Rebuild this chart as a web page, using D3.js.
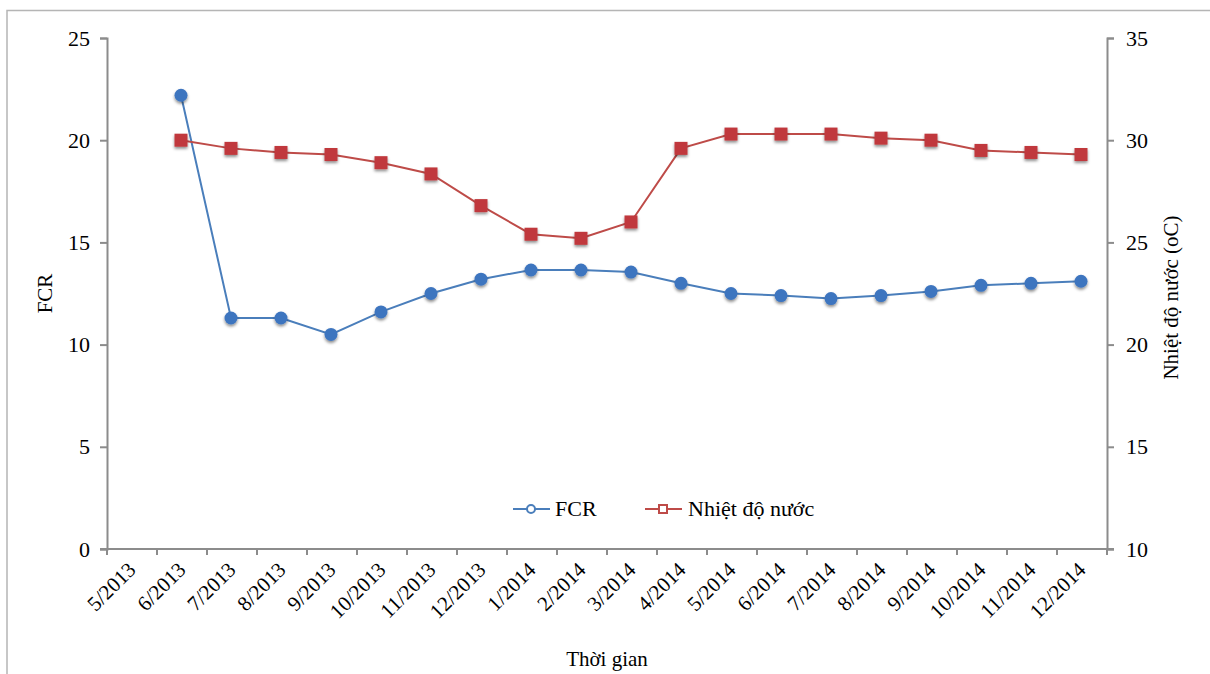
<!DOCTYPE html>
<html>
<head>
<meta charset="utf-8">
<script src="https://cdn.jsdelivr.net/npm/d3@7"></script>
<style>
  body { margin: 0; background: #fff; }
  svg text { font-family: "Times New Roman", "Liberation Serif", Tinos, "DejaVu Serif", serif !important; fill: #000; }
</style>
</head>
<body>
<div id="chart"></div>
<script>
const months= ["5/2013","6/2013","7/2013","8/2013","9/2013","10/2013","11/2013","12/2013",
    "1/2014","2/2014","3/2014","4/2014","5/2014","6/2014","7/2014","8/2014","9/2014",
    "10/2014","11/2014","12/2014"]
// no reading for 5/2013
const fcr= [null, 22.2, 11.3, 11.3, 10.5, 11.6, 12.5, 13.2, 13.65, 13.65, 13.55, 13.0,
    12.5, 12.4, 12.25, 12.4, 12.6, 12.9, 13.0, 13.1]
const temp= [null, 30.0, 29.6, 29.4, 29.3, 28.9, 28.35, 26.8, 25.4, 25.2, 26.0, 29.6,
    30.3, 30.3, 30.3, 30.1, 30.0, 29.5, 29.4, 29.3]
const leftTicks= [0, 5, 10, 15, 20, 25]
const rightTicks= [10, 15, 20, 25, 30, 35]

const W= 1210, H= 674
const m= {left: 107, right: 1107, top: 38, bottom: 549}
const blue= "#3d74bf", blueLine= "#4a7ebb"
const red= "#c0393c", redLine= "#be4b48"
const axisGrey= "#8c8c8c"
const serif= "'Times New Roman', 'Liberation Serif', Tinos, 'DejaVu Serif', serif"

const svg= d3.select("#chart").append("svg")
    .attr("width", W)
    .attr("height", H)
    .attr("font-family", serif)

const defs= svg.append("defs")
const f= defs.append("filter").attr("id", "shadow")
    .attr("x", "-50%").attr("y", "-50%").attr("width", "200%").attr("height", "200%")
f.append("feDropShadow").attr("dx", 0).attr("dy", 2).attr("stdDeviation", 1.6)
    .attr("flood-color", "#000").attr("flood-opacity", 0.45)

// outer frame (only top and left visible)
svg.append("path")
    .attr("d", `M7,${H} L7,10.5 L${W},10.5`)
    .attr("fill", "none")
    .attr("stroke", "#b5b5b5")
    .attr("stroke-width", 1.5)

const x= d3.scaleBand().domain(months).range([m.left, m.right])
const yL= d3.scaleLinear().domain([0, 25]).range([m.bottom, m.top])
const yR= d3.scaleLinear().domain([10, 35]).range([m.bottom, m.top])

// left axis
const gL= svg.append("g").attr("transform", `translate(${m.left},0)`)
    .call(d3.axisLeft(yL).tickValues(leftTicks).tickSize(7).tickPadding(10))
// right axis
const gR= svg.append("g").attr("transform", `translate(${m.right},0)`)
    .call(d3.axisRight(yR).tickValues(rightTicks).tickSize(7).tickPadding(12))

// bottom axis: ticks at band edges
const gX= svg.append("g").attr("transform", `translate(0,${m.bottom})`)
gX.append("line")
    .attr("x1", m.left - 7).attr("x2", m.right + 7)
    .attr("stroke", axisGrey).attr("stroke-width", 2)
const edges= months.map(d => x(d)).concat([m.right])
gX.selectAll(".tk").data(edges).join("line")
    .attr("x1", d => d).attr("x2", d => d)
    .attr("y1", 0).attr("y2", 6)
    .attr("stroke", axisGrey).attr("stroke-width", 2)
gX.selectAll(".lbl").data(months).join("text")
    .attr("transform", d => `translate(${x(d) + x.bandwidth() / 2 + 5},${22}) rotate(-45)`)
    .attr("text-anchor", "end")
    .attr("font-size", 21)
    .text(d => d)

;[gL, gR].forEach(g => {
    g.attr("font-family", serif)
    g.select(".domain").attr("stroke", axisGrey).attr("stroke-width", 2)
    g.selectAll(".tick line").attr("stroke", axisGrey).attr("stroke-width", 2)
    g.selectAll(".tick text")
        .attr("font-size", 22)
        .attr("fill", "#000")
})

// axis titles
svg.append("text")
    .attr("transform", `translate(52,${(m.top + m.bottom) / 2}) rotate(-90)`)
    .attr("text-anchor", "middle")
    .attr("font-size", 21)
    .text("FCR")
svg.append("text")
    .attr("transform", `translate(1178,${(m.top + m.bottom) / 2 + 4}) rotate(-90)`)
    .attr("text-anchor", "middle")
    .attr("font-size", 21)
    .text("Nhiệt độ nước (oC)")
svg.append("text")
    .attr("x", 607)
    .attr("y", 666)
    .attr("text-anchor", "middle")
    .attr("font-size", 21)
    .text("Thời gian")

const cx= d => x(d) + x.bandwidth() / 2 - 1

// FCR series
const fcrPts= months.map((d, i) => ({m: d, v: fcr[i]})).filter(d => d.v != null)
svg.append("path")
    .datum(fcrPts)
    .attr("fill", "none")
    .attr("stroke", blueLine)
    .attr("stroke-width", 2)
    .attr("d", d3.line().x(d => cx(d.m)).y(d => yL(d.v)))
svg.selectAll(".fcr").data(fcrPts).join("circle")
    .attr("cx", d => cx(d.m))
    .attr("cy", d => yL(d.v))
    .attr("r", 6.5)
    .attr("fill", blue)
    .attr("filter", "url(#shadow)")

// temperature series
const tPts= months.map((d, i) => ({m: d, v: temp[i]})).filter(d => d.v != null)
svg.append("path")
    .datum(tPts)
    .attr("fill", "none")
    .attr("stroke", redLine)
    .attr("stroke-width", 2)
    .attr("d", d3.line().x(d => cx(d.m)).y(d => yR(d.v)))
svg.selectAll(".tmp").data(tPts).join("rect")
    .attr("x", d => cx(d.m) - 6.5)
    .attr("y", d => yR(d.v) - 6.5)
    .attr("width", 13)
    .attr("height", 13)
    .attr("fill", red)
    .attr("filter", "url(#shadow)")

// legend
const lg= svg.append("g").attr("transform", "translate(0,509)")
lg.append("line").attr("x1", 513).attr("x2", 550).attr("stroke", blueLine).attr("stroke-width", 2)
lg.append("circle").attr("cx", 531).attr("r", 4).attr("fill", "#fff")
    .attr("stroke", blueLine).attr("stroke-width", 2)
lg.append("text").attr("x", 555).attr("y", 7).attr("font-size", 22).text("FCR")
lg.append("line").attr("x1", 645).attr("x2", 682).attr("stroke", redLine).attr("stroke-width", 2)
lg.append("rect").attr("x", 659).attr("y", -4).attr("width", 8).attr("height", 8)
    .attr("fill", "#fff").attr("stroke", redLine).attr("stroke-width", 2)
lg.append("text").attr("x", 688).attr("y", 7).attr("font-size", 22).text("Nhiệt độ nước")
</script>
</body>
</html>
